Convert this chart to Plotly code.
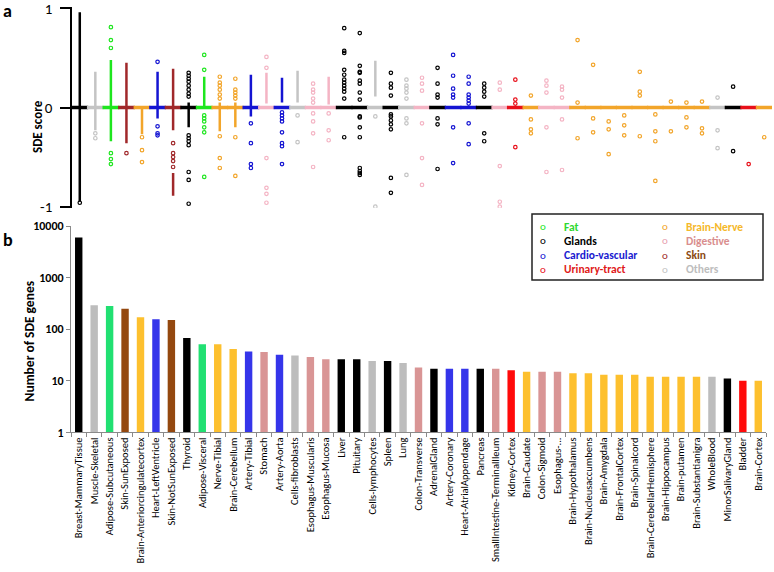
import plotly.graph_objects as go

W, H = 774, 572

tissues = ["Breast-MammaryTissue", "Muscle-Skeletal", "Adipose-Subcutaneous", "Skin-SunExposed",
           "Brain-Anteriorcingulatecortex", "Heart-LeftVentricle", "Skin-NotSunExposed", "Thyroid",
           "Adipose-Visceral", "Nerve-Tibial", "Brain-Cerebellum", "Artery-Tibial", "Stomach",
           "Artery-Aorta", "Cells-fibroblasts", "Esophagus-Muscularis", "Esophagus-Mucosa", "Liver",
           "Pituitary", "Cells-lymphocytes", "Spleen", "Lung", "Colon-Transverse", "AdrenalGland",
           "Artery-Coronary", "Heart-AtrialAppendage", "Pancreas", "SmallIntestine-TerminalIleum",
           "Kidney-Cortex", "Brain-Caudate", "Colon-Sigmoid", "Esophagus-...", "Brain-Hypothalamus",
           "Brain-Nucleusaccumbens", "Brain-Amygdala", "Brain-FrontalCortex", "Brain-Spinalcord",
           "Brain-CerebellarHemisphere", "Brain-Hippocampus", "Brain-putamen", "Brain-Substantianigra",
           "WholeBlood", "MinorSalivaryGland", "Bladder", "Brain-Cortex"]

groups = ["Glands", "Others", "Fat", "Skin", "Brain-Nerve", "Cardio-vascular", "Skin", "Glands",
          "Fat", "Brain-Nerve", "Brain-Nerve", "Cardio-vascular", "Digestive", "Cardio-vascular",
          "Others", "Digestive", "Digestive", "Glands", "Glands", "Others", "Glands", "Others",
          "Digestive", "Glands", "Cardio-vascular", "Cardio-vascular", "Glands", "Digestive",
          "Urinary-tract", "Brain-Nerve", "Digestive", "Digestive", "Brain-Nerve", "Brain-Nerve",
          "Brain-Nerve", "Brain-Nerve", "Brain-Nerve", "Brain-Nerve", "Brain-Nerve", "Brain-Nerve",
          "Brain-Nerve", "Others", "Glands", "Urinary-tract", "Brain-Nerve"]

sde_counts = [6000, 290, 280, 250, 170, 155, 150, 67, 51, 51, 41, 37, 36, 32, 31, 29, 26, 26, 26,
              24, 24, 22, 18, 17, 17, 17, 17, 17, 16, 15, 15, 15, 14, 14, 13, 13, 13, 12, 12, 12,
              12, 12, 11, 10, 10]

# dense (overlapping) ranges of SDE scores per tissue, [low, high]
dense_ranges = [
    [[-0.95, 0.96]], [[-0.23, 0.36]], [[-0.34, 0.48]], [[-0.36, 0.45]], [[-0.27, 0.0]],
    [[-0.11, 0.36]], [[-0.23, 0.39], [-0.89, -0.66]], [[-0.20, 0.05]], [[0.0, 0.31]],
    [[-0.24, 0.05]], [[-0.20, 0.05]], [[-0.09, 0.33]], [[0.04, 0.35]], [[0.05, 0.30]],
    [[0.05, 0.37]], [], [[0.03, 0.31]], [], [], [[0.11, 0.47]], [], [], [], [], [], [], [],
    [], [], [], [], [], [], [], [], [], [], [], [], [], [], [], [], [], []]

# isolated SDE scores per tissue
sde_points = [
    [-0.96],
    [-0.26, -0.31],
    [0.81, 0.68, 0.60, -0.46, -0.52, -0.57],
    [-0.46],
    [-0.30, -0.43, -0.55],
    [0.46, -0.19, -0.26, -0.28],
    [-0.36, -0.46, -0.50, -0.54, -0.60],
    [0.35, 0.32, 0.29, 0.26, 0.22, 0.18, 0.14, 0.11, -0.28, -0.31, -0.34, -0.38, -0.65, -0.73, -0.97],
    [0.53, 0.38, -0.08, -0.11, -0.14, -0.20, -0.25, -0.70],
    [0.31, 0.25, 0.22, 0.18, 0.13, 0.09, -0.29, -0.51, -0.61],
    [0.29, 0.18, 0.15, 0.12, 0.09, -0.30, -0.69],
    [-0.16, -0.36, -0.57, -0.61],
    [0.51, 0.40, -0.51, -0.81, -0.87, -0.96],
    [-0.05, -0.08, -0.11, -0.14, -0.25, -0.36, -0.39, -0.57],
    [-0.08, -0.35],
    [0.24, 0.18, 0.15, 0.09, 0.05, -0.06, -0.14, -0.26, -0.60],
    [-0.06, -0.23, -0.33],
    [0.80, 0.57, 0.55, 0.38, 0.33, 0.28, 0.25, 0.22, 0.19, 0.16, 0.09, -0.30],
    [0.75, 0.42, 0.36, 0.35, 0.27, 0.24, 0.15, 0.08, -0.09, -0.10, -0.20, -0.30, -0.61, -0.64, -0.66, -0.68],
    [-0.09, -1.0],
    [0.35, 0.24, 0.20, 0.12, -0.07, -0.09, -0.13, -0.17, -0.22, -0.71, -0.86],
    [0.28, 0.22, 0.19, 0.15, 0.09, -0.11, -0.16, -0.68],
    [0.30, 0.24, 0.17, -0.16, -0.51, -0.78],
    [0.40, 0.24, 0.13, 0.10, -0.11, -0.17, -0.62],
    [0.53, 0.32, 0.19, 0.13, 0.10, -0.20, -0.56],
    [0.31, 0.24, 0.13, 0.10, 0.07, 0.04, -0.16, -0.37],
    [0.24, 0.20, 0.16, 0.11, -0.26, -0.34],
    [0.25, 0.18, -0.59, -0.95, -1.0],
    [0.28, 0.08, 0.04, -0.40],
    [0.12, -0.12, -0.22, -0.26],
    [0.27, 0.22, 0.15, -0.20, -0.65],
    [0.21, 0.18, 0.10, -0.12, -0.63],
    [0.68, 0.05, -0.31],
    [0.43, -0.11, -0.25],
    [-0.14, -0.22, -0.47],
    [-0.08, -0.18, -0.28],
    [0.36, 0.16, 0.12, -0.29],
    [-0.07, -0.24, -0.34, -0.74],
    [0.06, -0.24],
    [0.05, -0.10, -0.20],
    [0.06, -0.21, -0.26],
    [0.10, -0.23, -0.41],
    [0.21, -0.44],
    [-0.57],
    [-0.30],
]

legend_left = ["Fat", "Glands", "Cardio-vascular", "Urinary-tract"]
legend_right = ["Brain-Nerve", "Digestive", "Skin", "Others"]

strip_colors = {"Fat": "#1ee61e", "Glands": "#000000", "Cardio-vascular": "#1414d2",
                "Urinary-tract": "#e8101a", "Brain-Nerve": "#f2a52a", "Digestive": "#f4b4c4",
                "Skin": "#a0282a", "Others": "#c4c4c4"}
bar_colors = {"Fat": "#21e072", "Glands": "#000000", "Cardio-vascular": "#3535ea",
              "Urinary-tract": "#ff0a0a", "Brain-Nerve": "#fdc02e", "Digestive": "#d99595",
              "Skin": "#94480f", "Others": "#bdbdbd"}
text_colors = {"Fat": "#2ed82e", "Glands": "#000000", "Cardio-vascular": "#1a1ad0",
               "Urinary-tract": "#e01818", "Brain-Nerve": "#f5b82a", "Digestive": "#d98e8e",
               "Skin": "#8b4a12", "Others": "#bdbdbd"}

FONT = "Carlito, 'Liberation Sans Narrow', 'Liberation Sans', Arial, sans-serif"


def px_x(p):
    return p / W


def px_y(p):
    return 1 - p / H


fig = go.Figure()

# ---- panel a: strips ----
for i, t in enumerate(tissues):
    c = strip_colors[groups[i]]
    for lo, hi in dense_ranges[i]:
        fig.add_trace(go.Scatter(x=[t, t], y=[lo, hi], mode="lines", line=dict(color=c, width=2.5),
                                 xaxis="x", yaxis="y", showlegend=False, hoverinfo="skip"))
    if sde_points[i]:
        fig.add_trace(go.Scatter(x=[t] * len(sde_points[i]), y=sde_points[i], mode="markers",
                                 marker=dict(symbol="circle-open", size=3.5, color=c, line=dict(width=1.2)),
                                 xaxis="x", yaxis="y", showlegend=False))
    fig.add_trace(go.Scatter(x=[t], y=[0], mode="markers",
                             marker=dict(symbol="line-ew", size=12, line=dict(color=c, width=3.5)),
                             xaxis="x", yaxis="y", showlegend=False, hoverinfo="skip"))

# ---- panel b: bars ----
fig.add_trace(go.Bar(x=tissues, y=sde_counts, marker=dict(color=[bar_colors[g] for g in groups], line=dict(width=0)),
                     xaxis="x2", yaxis="y2", showlegend=False))

fig.update_layout(
    width=W, height=H, margin=dict(l=0, r=0, t=0, b=0, autoexpand=False),
    paper_bgcolor="white", plot_bgcolor="white",
    font=dict(family=FONT, color="black"),
    bargap=0.52,
    xaxis=dict(domain=[px_x(72), px_x(772)], type="category", categoryarray=tissues,
               range=[-0.5, 44.5], showline=False, showticklabels=False, ticks="", showgrid=False,
               zeroline=False, automargin=False),
    yaxis=dict(domain=[px_y(207.7), px_y(7.3)], range=[-1.01, 1.01], tickvals=[-1, 0, 1], ticktext=["-1", "0", "1"],
               showline=True, linecolor="black", linewidth=1.5, ticks="outside", ticklen=10,
               tickwidth=1.5, tickcolor="black", showgrid=False, zeroline=True, zerolinecolor="black",
               zerolinewidth=1, tickfont=dict(size=15, family=FONT), anchor="x", automargin=False,
               ticklabeloverflow="allow", ticklabelstandoff=5),
    xaxis2=dict(domain=[px_x(71), px_x(766)], type="category", categoryarray=tissues,
                range=[-0.5, 44.5], showline=True, linecolor="#8a8a8a", linewidth=1,
                ticks="outside", tickson="boundaries", ticklen=4, tickcolor="#8a8a8a",
                tickangle=-90, tickfont=dict(size=10.5, family=FONT), showgrid=False, anchor="y2",
                automargin=False, ticklabeloverflow="allow"),
    yaxis2=dict(domain=[px_y(432.3), px_y(226)], type="log", range=[0, 4],
                tickvals=[1, 10, 100, 1000, 10000], ticktext=["<b>1</b>", "<b>10</b>", "<b>100</b>", "<b>1000</b>", "<b>10000</b>"],
                showline=True, linecolor="#8a8a8a", linewidth=1, ticks="outside", ticklen=4,
                tickcolor="#8a8a8a", showgrid=False, zeroline=False,
                tickfont=dict(size=12, family=FONT), anchor="x2", automargin=False,
                ticklabeloverflow="allow"),
)

annotations = [
    dict(text="<b>a</b>", x=px_x(1), y=px_y(-2), xanchor="left", yanchor="top", font=dict(size=18)),
    dict(text="<b>b</b>", x=px_x(1), y=px_y(227), xanchor="left", yanchor="top", font=dict(size=18)),
    dict(text="<b>SDE score</b>", x=px_x(28), y=px_y(98), textangle=-90, font=dict(size=13)),
    dict(text="<b>Number of SDE genes</b>", x=px_x(18), y=px_y(341), textangle=-90, font=dict(size=13.5)),
]
row_y = [226.7, 240.7, 255, 269.3]
for col_names, mx, tx in [(legend_left, 543, 562), (legend_right, 665, 684)]:
    for r, name in enumerate(col_names):
        annotations.append(dict(text="o", x=px_x(mx), y=px_y(row_y[r]), xanchor="center", yanchor="middle",
                                font=dict(size=11, color=strip_colors[name] if name != "Digestive" else "#e8a0b0")))
        annotations.append(dict(text="<b>" + name + "</b>", x=px_x(tx), y=px_y(row_y[r]), xanchor="left",
                                yanchor="middle", font=dict(size=11.5, color=text_colors[name])))
for a in annotations:
    a.update(xref="paper", yref="paper", showarrow=False)
fig.update_layout(annotations=annotations)

fig.add_shape(type="rect", xref="paper", yref="paper", x0=px_x(532), x1=px_x(763), y0=px_y(280), y1=px_y(214),
              line=dict(color="#222222", width=1.5), fillcolor="rgba(0,0,0,0)")

fig.write_html("out.html", config={"displayModeBar": False},
               post_script="document.body.style.margin='0';document.body.style.overflow='hidden';")
